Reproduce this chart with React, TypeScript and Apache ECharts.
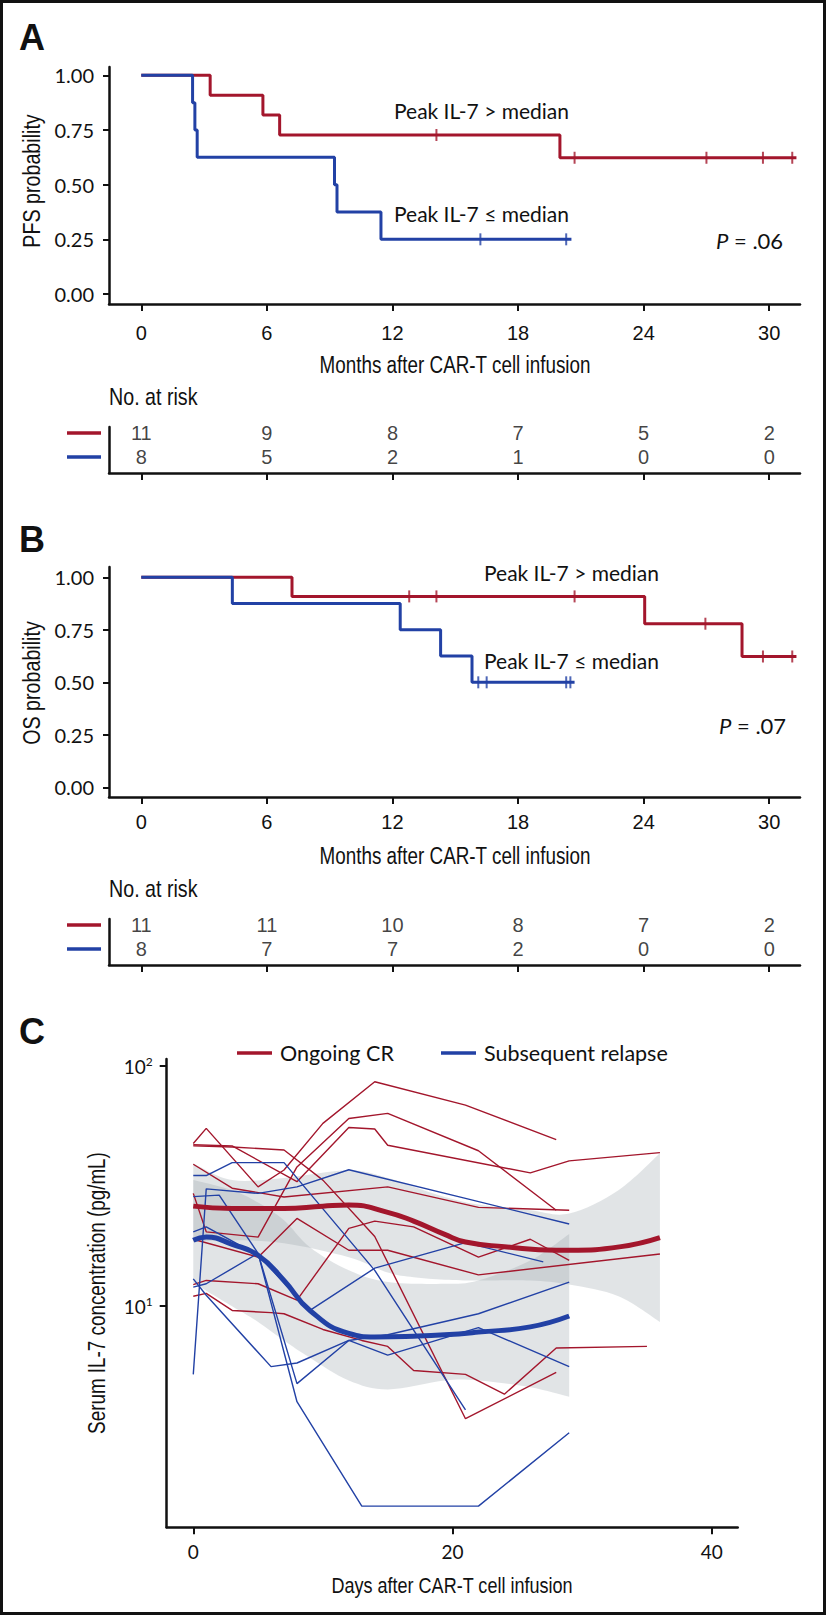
import React, { useEffect, useRef } from "react";
import * as echarts from "echarts";

const RED = "#a3162c";
const BLUE = "#2241a5";
const INK = "#111111";
const SANS = "Lato, 'Noto Sans', sans-serif";
const ARIAL = "'Liberation Sans', Arial, sans-serif";
const CONDENSE = 0.82;

// ---------- Panel A / B shared ----------
const monthTicks = [0, 6, 12, 18, 24, 30];
const probTicks = [0, 0.25, 0.5, 0.75, 1];
const riskTimes = [0, 6, 12, 18, 24, 30];

// PFS (panel A)
const pfsHighSteps = [[0, 1], [3.29, 0.909], [5.81, 0.818], [6.61, 0.727], [20.0, 0.623], [31.3, 0.623]];
const pfsHighCensor = [[14.1, 0.727], [20.7, 0.623], [27.0, 0.623], [29.7, 0.623], [31.1, 0.623]];
const pfsLowSteps = [[0, 1], [2.45, 0.875], [2.56, 0.75], [2.67, 0.625], [9.23, 0.5], [9.35, 0.375], [11.45, 0.25], [20.55, 0.25]];
const pfsLowCensor = [[16.2, 0.25], [20.3, 0.25]];
const pfsRiskHigh = [11, 9, 8, 7, 5, 2];
const pfsRiskLow = [8, 5, 2, 1, 0, 0];

// OS (panel B)
const osHighSteps = [[0, 1], [7.2, 0.909], [24.05, 0.779], [28.7, 0.623], [31.3, 0.623]];
const osHighCensor = [[12.8, 0.909], [14.1, 0.909], [20.7, 0.909], [26.95, 0.779], [29.7, 0.623], [31.1, 0.623]];
const osLowSteps = [[0, 1], [4.35, 0.875], [12.37, 0.75], [14.3, 0.625], [15.8, 0.5], [20.7, 0.5]];
const osLowCensor = [[16.1, 0.5], [16.5, 0.5], [20.3, 0.5], [20.5, 0.5]];
const osRiskHigh = [11, 11, 10, 8, 7, 2];
const osRiskLow = [8, 7, 7, 2, 0, 0];

// ---------- Panel C ----------
const dayTicks = [0, 20, 40];
// Ongoing CR patients (day, pg/mL)
const cr1 = [[0, 47.6], [1, 55], [5, 31.4], [7, 36.9], [10, 57.7], [14, 86], [21, 68.8], [28, 49.4]];
const cr2 = [[0, 46.5], [3, 46], [7, 44.7], [10, 33.5], [14, 19.5], [21, 3.4], [28, 5.3]];
const cr3 = [[0, 47], [3, 46.5], [8, 33], [12, 55.5], [14, 54.7], [15, 46.8], [26, 35.9], [29, 40.3], [36, 43.6]];
const cr4 = [[0, 29.5], [1, 20.4], [5, 19.4], [8, 38], [12, 60.5], [15, 63.5], [22, 44.4], [28, 25.1]];
const cr5 = [[0, 39], [3, 31], [7, 28.5], [15, 31.4], [22, 25.8], [29, 25.1]];
const cr6 = [[0, 19], [5, 16], [8, 23.2], [12, 17.1], [15, 17.1], [22, 13.5], [36, 16.5]];
const cr7 = [[0, 12.3], [1, 12.8], [5, 12.4], [8, 10.6], [12, 21.1], [14, 22.6], [17, 21.4], [22, 16], [26, 19], [29, 15.5]];
const cr8 = [[0, 11], [1, 11.3], [3, 9.6], [6, 9.4], [7, 9.3], [10, 8], [13, 7.2], [15, 6.8], [17, 5.4], [21, 5.2], [24, 4.3], [28, 6.7], [35, 6.8]];
// Subsequent relapse patients
const rel1 = [[0, 35], [1, 35], [3, 39.6], [7, 39.6], [14, 14.1], [21, 3.7]];
const rel2 = [[0, 5.2], [1, 30.8], [5, 29.5], [8, 31.4], [12, 37], [21, 28.1], [29, 22]];
const rel3 = [[0, 28.6], [2, 29], [5, 16.6], [8, 4.0], [13, 1.47], [22, 1.47], [29, 2.97]];
const rel4 = [[0, 12], [1, 12.4], [5, 16.6], [8, 4.76], [12, 7.2], [15, 6.25], [22, 8.14], [29, 5.6]];
const rel5 = [[0, 13], [1, 11.1], [6, 5.6], [8, 5.8], [12, 7.2], [15, 7.6], [22, 9.3], [29, 12.6]];
const rel6 = [[0, 20.4], [1, 21.4], [5, 16.3], [9, 9.6], [14, 14.4], [21, 18.4], [27, 15.3]];
// Smoothed means and confidence bands
const crMean = [[0, 26.1], [3, 25.5], [7, 25.5], [10, 26.1], [12, 26.4], [15, 24.6], [17, 22.6], [19.4, 19.9], [21, 18.5], [24, 17.7], [28, 17.1], [29, 17.1], [33, 17.7], [36, 19.3]];
const crBandDays = [0, 3, 7, 12, 15, 17, 19.4, 22, 26, 29, 32.8, 36];
const crBandUpper = [39.3, 33.5, 34.2, 36.8, 34.2, 31.4, 28.5, 26.5, 25.1, 24.3, 30.4, 43.3];
const crBandLower = [18.5, 18.8, 18.3, 16.0, 13.8, 13.2, 12.9, 12.8, 12.8, 12.3, 11.0, 8.6];
const relMean = [[0, 18.8], [1, 19.4], [3, 18.1], [5, 16.3], [7, 12.8], [9, 9.6], [12, 7.7], [14, 7.45], [17, 7.5], [19.4, 7.6], [22, 7.8], [26, 8.2], [29, 9.1]];
const relBandDays = [0, 3, 5, 7, 9, 12, 15, 19.4, 22, 26, 29];
const relBandUpper = [33.5, 30.4, 27, 22.8, 17.6, 14.1, 12.6, 12.4, 12.8, 15.5, 20];
const relBandLower = [12.5, 10, 8.6, 7.2, 6.1, 4.9, 4.5, 4.9, 4.9, 4.6, 4.2];

const crLines = [cr1, cr2, cr3, cr4, cr5, cr6, cr7, cr8];
const relLines = [rel1, rel2, rel3, rel4, rel5, rel6];

function monthX(gridIndex: number, showLabels: boolean, margin: number) {
  return {
    type: "value", gridIndex, min: -1.543, max: 31.47,
    axisLine: { show: true, onZero: false, lineStyle: { color: INK, width: 2.5 } },
    axisTick: { show: true, length: 7, customValues: monthTicks, lineStyle: { color: INK, width: 2 } },
    axisLabel: { show: showLabels, customValues: monthTicks, margin, fontSize: 20, fontFamily: ARIAL, color: INK },
    splitLine: { show: false },
  };
}
function probY(gridIndex: number, min: number, max: number) {
  return {
    type: "value", gridIndex, min, max,
    axisLine: { show: true, onZero: false, lineStyle: { color: INK, width: 2.5 } },
    axisTick: { show: true, length: 6, customValues: probTicks, lineStyle: { color: INK, width: 2 } },
    axisLabel: { customValues: probTicks, margin: 15, fontSize: 20, fontFamily: SANS, color: INK, formatter: (v: number) => v.toFixed(2) },
    splitLine: { show: false },
  };
}
function riskY(gridIndex: number) {
  return {
    type: "value", gridIndex, min: 0, max: 5,
    axisLine: { show: true, onZero: false, lineStyle: { color: INK, width: 2.5 } },
    axisTick: { show: false }, axisLabel: { show: false }, splitLine: { show: false },
  };
}
function km(xi: number, data: number[][], color: string) {
  return { type: "line", xAxisIndex: xi, yAxisIndex: xi, data, step: "end", symbol: "none", lineStyle: { color, width: 3 }, silent: true, z: 3 };
}
function censor(xi: number, data: number[][], color: string) {
  return { type: "scatter", xAxisIndex: xi, yAxisIndex: xi, data, symbol: "rect", symbolSize: [2, 12], itemStyle: { color }, silent: true, z: 4 };
}
function risk(xi: number, counts: number[], row: number) {
  return {
    type: "scatter", xAxisIndex: xi, yAxisIndex: xi, symbolSize: 1, itemStyle: { color: "rgba(0,0,0,0)" }, silent: true,
    data: riskTimes.map((t, i) => [t, row, counts[i]]),
    label: { show: true, position: "inside", formatter: (p: any) => String(p.value[2]), fontSize: 20, fontFamily: ARIAL, color: INK },
  };
}

// Catmull-Rom smoothing of pixel points into cubic bezier commands
function smoothSegs(pts: number[][]) {
  let s = "";
  for (let i = 0; i < pts.length - 1; i++) {
    const p0 = pts[Math.max(0, i - 1)];
    const p1 = pts[i];
    const p2 = pts[i + 1];
    const p3 = pts[Math.min(pts.length - 1, i + 2)];
    const c1x = p1[0] + (p2[0] - p0[0]) / 6;
    const c1y = p1[1] + (p2[1] - p0[1]) / 6;
    const c2x = p2[0] - (p3[0] - p1[0]) / 6;
    const c2y = p2[1] - (p3[1] - p1[1]) / 6;
    s += ` C ${c1x} ${c1y} ${c2x} ${c2y} ${p2[0]} ${p2[1]}`;
  }
  return s;
}
function band(days: number[], lower: number[], upper: number[]) {
  return {
    type: "custom", xAxisIndex: 4, yAxisIndex: 4, silent: true, z: 1,
    data: [[days[0], lower[0]]],
    renderItem: (_params: any, api: any) => {
      const up = days.map((d, i) => api.coord([d, upper[i]]));
      const lo = days.map((d, i) => api.coord([d, lower[i]])).reverse();
      const pathData = `M ${up[0][0]} ${up[0][1]}` + smoothSegs(up) + ` L ${lo[0][0]} ${lo[0][1]}` + smoothSegs(lo) + " Z";
      return { type: "path", shape: { pathData }, style: { fill: "#9aa6ad", opacity: 0.3 } };
    },
  };
}
function txt(text: string, x: number, y: number, size: number, family: string, align = "left", rotation = 0, extra: any = {}, scaleX = 1) {
  return { type: "text", x, y, rotation, scaleX, silent: true,
    style: { text, fill: INK, fontSize: size, fontFamily: family, align, verticalAlign: "middle", ...extra } };
}
function ctxt(text: string, x: number, y: number, size: number, align = "left", rotation = 0) {
  return txt(text, x, y, size, ARIAL, align, rotation, {}, CONDENSE);
}
function keyLine(x1: number, x2: number, y: number, color: string) {
  return { type: "line", silent: true, shape: { x1, y1: y, x2, y2: y }, style: { stroke: color, lineWidth: 3.5 } };
}

export default function App() {
  const ref = useRef<HTMLDivElement>(null);
  useEffect(() => {
    const chart = echarts.init(ref.current!, null, { renderer: "svg" });
    const option: any = {
      animation: false,
      backgroundColor: "#ffffff",
      grid: [
        { left: 109, top: 67, width: 691, height: 237 },
        { left: 109, top: 427, width: 691, height: 46 },
        { left: 109, top: 567, width: 691, height: 230 },
        { left: 109, top: 919, width: 691, height: 46 },
        { left: 166.7, top: 1059, width: 571, height: 468.3 },
      ],
      xAxis: [
        monthX(0, true, 19),
        monthX(1, false, 10),
        monthX(2, true, 15),
        monthX(3, false, 10),
        {
          type: "value", gridIndex: 4, min: -2.05, max: 42,
          axisLine: { show: true, onZero: false, lineStyle: { color: INK, width: 2.5 } },
          axisTick: { show: true, length: 7, customValues: dayTicks, lineStyle: { color: INK, width: 2 } },
          axisLabel: { customValues: dayTicks, margin: 15, fontSize: 19, fontFamily: SANS, color: INK },
          splitLine: { show: false },
        },
      ],
      yAxis: [
        probY(0, -0.0457, 1.038),
        riskY(1),
        probY(2, -0.046, 1.049),
        riskY(3),
        {
          type: "log", logBase: 10, gridIndex: 4, min: 1.2, max: 107,
          axisLine: { show: true, onZero: false, lineStyle: { color: INK, width: 2.5 } },
          axisTick: { show: true, length: 7, lineStyle: { color: INK, width: 2 } },
          minorTick: { show: false },
          axisLabel: {
            margin: 14,
            showMinLabel: false,
            showMaxLabel: false,
            formatter: (v: number) => {
              const l = Math.log10(v);
              const e = Math.round(l);
              if (Math.abs(l - e) > 0.01) return "";
              return "{b|10}{s|" + e + "}";
            },
            rich: {
              b: { fontSize: 19, fontFamily: SANS, color: INK, lineHeight: 22 },
              s: { fontSize: 12, fontFamily: SANS, color: INK, verticalAlign: "top", lineHeight: 9 },
            },
          },
          splitLine: { show: false },
        },
      ],
      series: [
        km(0, pfsHighSteps, RED), censor(0, pfsHighCensor, RED),
        km(0, pfsLowSteps, BLUE), censor(0, pfsLowCensor, BLUE),
        risk(1, pfsRiskHigh, 4.35), risk(1, pfsRiskLow, 1.7),
        km(2, osHighSteps, RED), censor(2, osHighCensor, RED),
        km(2, osLowSteps, BLUE), censor(2, osLowCensor, BLUE),
        risk(3, osRiskHigh, 4.35), risk(3, osRiskLow, 1.7),
        band(crBandDays, crBandLower, crBandUpper),
        band(relBandDays, relBandLower, relBandUpper),
        ...crLines.map((d) => ({ type: "line", xAxisIndex: 4, yAxisIndex: 4, data: d, symbol: "none", silent: true, lineStyle: { color: RED, width: 1.4 }, z: 3 })),
        ...relLines.map((d) => ({ type: "line", xAxisIndex: 4, yAxisIndex: 4, data: d, symbol: "none", silent: true, lineStyle: { color: BLUE, width: 1.4 }, z: 3 })),
        { type: "line", xAxisIndex: 4, yAxisIndex: 4, data: crMean, smooth: 0.5, symbol: "none", silent: true, lineStyle: { color: RED, width: 5 }, z: 4 },
        { type: "line", xAxisIndex: 4, yAxisIndex: 4, data: relMean, smooth: 0.5, symbol: "none", silent: true, lineStyle: { color: BLUE, width: 5 }, z: 4 },
      ],
      graphic: {
        elements: [
          { type: "rect", silent: true, shape: { x: 1.5, y: 1.5, width: 823, height: 1612 }, style: { fill: "none", stroke: INK, lineWidth: 3 } },
          txt("A", 19, 37, 36, ARIAL, "left", 0, { fontWeight: "bold" }),
          txt("B", 19, 539, 36, ARIAL, "left", 0, { fontWeight: "bold" }),
          txt("C", 19, 1031, 36, ARIAL, "left", 0, { fontWeight: "bold" }),
          // Panel A texts
          ctxt("PFS probability", 32, 181, 24, "center", Math.PI / 2),
          txt("Peak IL-7 > median", 394, 110, 21, SANS),
          txt("Peak IL-7 \u2264 median", 394, 213, 21, SANS),
          txt("{i|P} = .06", 716, 240, 22, SANS, "left", 0, { rich: { i: { fontStyle: "italic", fontSize: 22, fontFamily: SANS, fill: INK } } }),
          ctxt("Months after CAR-T cell infusion", 455, 365, 23, "center"),
          ctxt("No. at risk", 109, 397, 24),
          keyLine(67, 101, 433, RED),
          keyLine(67, 101, 457, BLUE),
          // Panel B texts
          ctxt("OS probability", 32, 683, 24, "center", Math.PI / 2),
          txt("Peak IL-7 > median", 484, 572, 21, SANS),
          txt("Peak IL-7 \u2264 median", 484, 660, 21, SANS),
          txt("{i|P} = .07", 719, 725, 22, SANS, "left", 0, { rich: { i: { fontStyle: "italic", fontSize: 22, fontFamily: SANS, fill: INK } } }),
          ctxt("Months after CAR-T cell infusion", 455, 856, 23, "center"),
          ctxt("No. at risk", 109, 889, 24),
          keyLine(67, 101, 925, RED),
          keyLine(67, 101, 949, BLUE),
          // Panel C texts
          keyLine(237, 272, 1053, RED),
          txt("Ongoing CR", 280, 1053, 21.5, SANS),
          keyLine(441, 476, 1053, BLUE),
          txt("Subsequent relapse", 484, 1053, 21.5, SANS),
          ctxt("Serum IL-7 concentration (pg/mL)", 97, 1293, 23, "center", Math.PI / 2),
          ctxt("Days after CAR-T cell infusion", 452, 1585, 22, "center"),
        ],
      },
    };
    chart.setOption(option);
    return () => chart.dispose();
  }, []);
  return <div ref={ref} style={{ position: "absolute", left: 0, top: 0, width: 827, height: 1616, background: "#fff" }} />;
}
